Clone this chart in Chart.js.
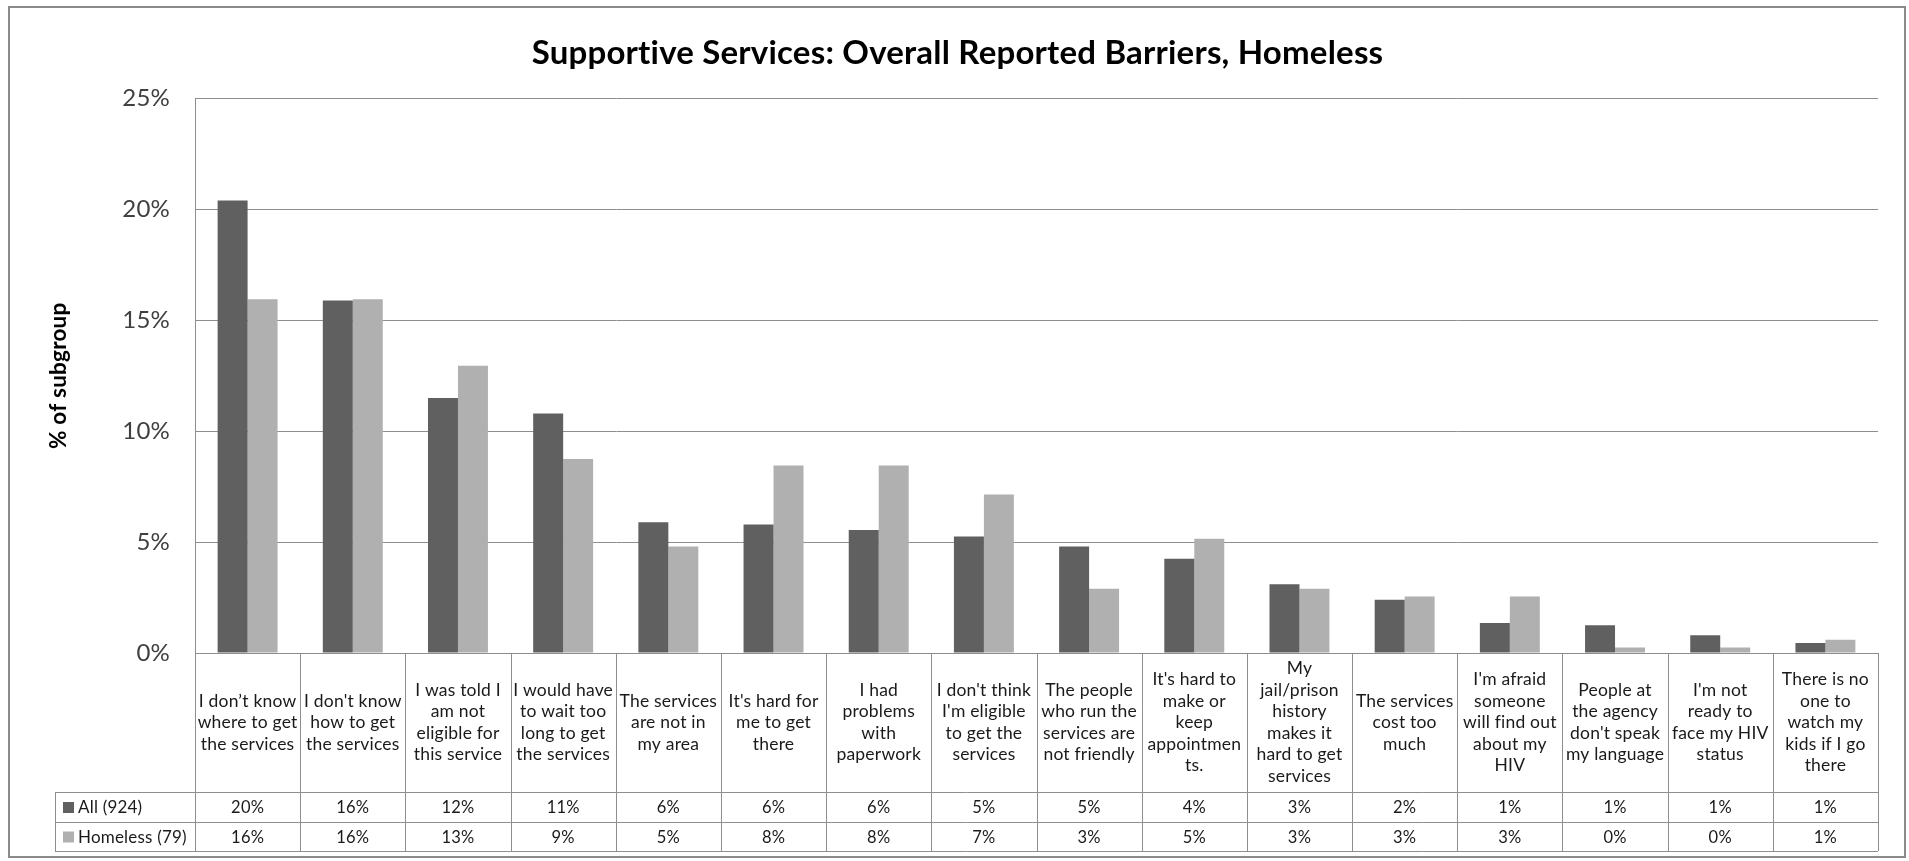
<!DOCTYPE html>
<html>
<head>
<meta charset="utf-8">
<script src="https://cdn.jsdelivr.net/npm/chart.js@4.4.1/dist/chart.umd.min.js"></script>
<style>
  html, body { margin: 0; padding: 0; background: #ffffff; }
  #wrap { width: 1909px; height: 861px; position: relative; }
</style>
</head>
<body>
<div id="wrap"><canvas id="c" width="1909" height="861"></canvas></div>
<script>
// ---- data ----
const categories = [
  ["I don\u2019t know", "where to get", "the services"],
  ["I don't know", "how to get", "the services"],
  ["I was told I", "am not", "eligible for", "this service"],
  ["I would have", "to wait too", "long to get", "the services"],
  ["The services", "are not in", "my area"],
  ["It's hard for", "me to get", "there"],
  ["I had", "problems", "with", "paperwork"],
  ["I don't think", "I'm eligible", "to get the", "services"],
  ["The people", "who run the", "services are", "not friendly"],
  ["It's hard to", "make or", "keep", "appointmen", "ts."],
  ["My", "jail/prison", "history", "makes it", "hard to get", "services"],
  ["The services", "cost too", "much"],
  ["I'm afraid", "someone", "will find out", "about my", "HIV"],
  ["People at", "the agency", "don't speak", "my language"],
  ["I'm not", "ready to", "face my HIV", "status"],
  ["There is no", "one to", "watch my", "kids if I go", "there"]
];
const seriesNames = ["All (924)", "Homeless (79)"];
const allValues      = [20.4, 15.9, 11.5, 10.8, 5.9, 5.8, 5.55, 5.25, 4.8, 4.25, 3.1, 2.4, 1.35, 1.25, 0.8, 0.45];
const homelessValues = [15.95, 15.95, 12.95, 8.75, 4.8, 8.45, 8.45, 7.15, 2.9, 5.15, 2.9, 2.55, 2.55, 0.25, 0.25, 0.6];
const allTableLabels      = ["20%","16%","12%","11%","6%","6%","6%","5%","5%","4%","3%","2%","1%","1%","1%","1%"];
const homelessTableLabels = ["16%","16%","13%","9%","5%","8%","8%","7%","3%","5%","3%","3%","3%","0%","0%","1%"];
const yTickValues = [0, 5, 10, 15, 20, 25];

const titleText = "Supportive Services: Overall Reported Barriers, Homeless";
const yTitleText = "% of subgroup";

// ---- styles ----
const DARK = "#606060";
const LIGHT = "#b0b0b0";
const GRID = "#8e8e8e";
const FONT = "Lato, 'Open Sans', sans-serif";

function setSpacing(chart) {
  if ("letterSpacing" in chart.ctx) chart.ctx.letterSpacing = "0.2px";
}

const tablePlugin = {
  id: "dataTable",
  beforeUpdate(chart) { setSpacing(chart); },
  beforeDraw(chart) {
    const ctx = chart.ctx;
    setSpacing(chart);
    ctx.save();
    ctx.fillStyle = "#ffffff";
    ctx.fillRect(0, 0, chart.width, chart.height);
    ctx.strokeStyle = "#8a8a8a";
    ctx.lineWidth = 2;
    ctx.strokeRect(9, 7, 1896, 850);
    ctx.restore();
  },
  afterDraw(chart) {
    const ctx = chart.ctx;
    const x = chart.scales.x;
    const area = chart.chartArea;
    const n = categories.length;
    const step = x.getPixelForValue(1) - x.getPixelForValue(0);
    const top = area.bottom;
    const rowA = top + 139;
    const rowB = rowA + 30;
    const bottom = rowB + 29;
    const legendLeft = 55;
    const right = x.getPixelForValue(n - 1) + step / 2;

    ctx.save();
    ctx.strokeStyle = GRID;
    ctx.lineWidth = 1;
    for (let i = 0; i <= n; i++) {
      const bx = Math.round(x.getPixelForValue(0) - step / 2 + i * step) + 0.5;
      ctx.beginPath();
      ctx.moveTo(bx, top);
      ctx.lineTo(bx, bottom);
      ctx.stroke();
    }
    ctx.beginPath();
    ctx.moveTo(legendLeft + 0.5, rowA);
    ctx.lineTo(legendLeft + 0.5, bottom);
    ctx.stroke();
    [rowA, rowB, bottom].forEach(yy => {
      ctx.beginPath();
      ctx.moveTo(legendLeft, Math.round(yy) + 0.5);
      ctx.lineTo(right, Math.round(yy) + 0.5);
      ctx.stroke();
    });
    ctx.beginPath();
    ctx.moveTo(area.left, Math.round(top) + 0.5);
    ctx.lineTo(right, Math.round(top) + 0.5);
    ctx.stroke();

    // category labels
    ctx.fillStyle = "#1a1a1a";
    ctx.textAlign = "center";
    ctx.textBaseline = "middle";
    ctx.font = "17.5px " + FONT;
    const lh = 21.5;
    const midY = (top + rowA) / 2;
    categories.forEach((lines, i) => {
      const cx = x.getPixelForValue(i);
      const y0 = midY - (lines.length - 1) * lh / 2;
      lines.forEach((t, j) => ctx.fillText(t, cx, y0 + j * lh));
    });
    // values
    ctx.font = "16.5px " + FONT;
    for (let i = 0; i < n; i++) {
      const cx = x.getPixelForValue(i);
      ctx.fillText(allTableLabels[i], cx, (rowA + rowB) / 2 + 1);
      ctx.fillText(homelessTableLabels[i], cx, (rowB + bottom) / 2 + 1);
    }
    // legend keys
    ctx.textAlign = "left";
    ctx.font = "17px " + FONT;
    ctx.fillStyle = DARK;
    ctx.fillRect(63, (rowA + rowB) / 2 - 5, 11, 11);
    ctx.fillStyle = LIGHT;
    ctx.fillRect(63, (rowB + bottom) / 2 - 5, 11, 11);
    ctx.fillStyle = "#1a1a1a";
    ctx.fillText(seriesNames[0], 78, (rowA + rowB) / 2 + 1);
    ctx.fillText(seriesNames[1], 78, (rowB + bottom) / 2 + 1);
    ctx.restore();
  }
};

new Chart(document.getElementById("c"), {
  type: "bar",
  data: {
    labels: categories,
    datasets: [
      { label: seriesNames[0], data: allValues, backgroundColor: DARK, borderWidth: 0 },
      { label: seriesNames[1], data: homelessValues, backgroundColor: LIGHT, borderWidth: 0 }
    ]
  },
  options: {
    responsive: false,
    animation: false,
    devicePixelRatio: 1,
    layout: { padding: { left: 37, right: 31, top: 17, bottom: 208 } },
    plugins: {
      legend: { display: false },
      tooltip: { enabled: false },
      title: {
        display: true,
        text: titleText,
        color: "#000000",
        font: { family: FONT, size: 33, weight: "bold", lineHeight: 1.2 },
        padding: { top: 17, bottom: 25 }
      }
    },
    datasets: { bar: { categoryPercentage: 0.57, barPercentage: 1.0 } },
    scales: {
      x: {
        display: false,
        offset: true,
        grid: { display: false }
      },
      y: {
        min: 0,
        max: 25,
        afterBuildTicks(scale) { scale.ticks = yTickValues.map(v => ({ value: v })); },
        afterFit(scale) { scale.width = 158; },
        ticks: {
          callback: v => v + "%",
          color: "#404040",
          padding: 25,
          font: { family: FONT, size: 24 }
        },
        grid: { color: GRID, lineWidth: 1, drawTicks: false },
        border: { display: true, color: GRID, width: 1 },
        title: {
          display: true,
          text: yTitleText,
          color: "#000000",
          font: { family: FONT, size: 22.5, weight: "bold", lineHeight: 1.2 },
          padding: { top: 8, bottom: 0 }
        }
      }
    }
  },
  plugins: [tablePlugin]
});
</script>
</body>
</html>
